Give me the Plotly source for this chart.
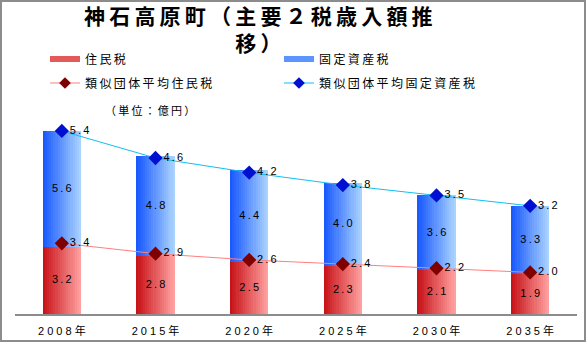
import plotly.graph_objects as go

# ---- data ----
years = ["2008年", "2015年", "2020年", "2025年", "2030年", "2035年"]
resident_tax = [3.2, 2.8, 2.5, 2.3, 2.1, 1.9]
fixed_asset_tax = [5.6, 4.8, 4.4, 4.0, 3.6, 3.3]
avg_resident_tax = [3.4, 2.9, 2.6, 2.4, 2.2, 2.0]
avg_fixed_asset_tax = [5.4, 4.6, 4.2, 3.8, 3.5, 3.2]

title_line1 = "神石高原町（主要２税歳入額推"
title_line2 = "移）"
unit_label = "（単位：億円）"
names = ["住民税", "固定資産税", "類似団体平均住民税", "類似団体平均固定資産税"]

W, H = 587, 344
TS = "\u2009"
FONT = "Liberation Sans, Arial, Noto Sans CJK JP, sans-serif"


def sp(s, sep=TS):
    return sep.join(s)


def fmt(v):
    return sp(f"{v:.1f}")


def lerp(c1, c2, t):
    return "rgb(%d,%d,%d)" % tuple(round(a + (b - a) * t) for a, b in zip(c1, c2))


fig = go.Figure()

BAR_W = 0.41
N = 18
red_l, red_r = (200, 20, 25), (255, 160, 160)
blue_l, blue_r = (25, 90, 255), (170, 210, 255)
for i in range(N):
    t = i / (N - 1)
    fig.add_bar(x=years, y=resident_tax, width=BAR_W / N, offset=-BAR_W / 2 + i * BAR_W / N,
                marker=dict(color=lerp(red_l, red_r, t), line=dict(width=0)),
                showlegend=False, hoverinfo="skip")
    fig.add_bar(x=years, y=fixed_asset_tax, base=resident_tax, width=BAR_W / N,
                offset=-BAR_W / 2 + i * BAR_W / N,
                marker=dict(color=lerp(blue_l, blue_r, t), line=dict(width=0)),
                showlegend=False, hoverinfo="skip")

# segment labels
fig.add_scatter(x=years, y=[r / 2 for r in resident_tax], mode="text",
                text=[fmt(v) for v in resident_tax], textfont=dict(size=11, color="black", family=FONT),
                showlegend=False, hoverinfo="skip")
fig.add_scatter(x=years, y=[r + f / 2 for r, f in zip(resident_tax, fixed_asset_tax)], mode="text",
                text=[fmt(v) for v in fixed_asset_tax], textfont=dict(size=11, color="black", family=FONT),
                showlegend=False, hoverinfo="skip")

# stacked lines
fig.add_scatter(x=years, y=avg_resident_tax, mode="lines+markers+text",
                line=dict(color="#FF7F7F", width=1),
                marker=dict(symbol="diamond", size=11, color="#7F0000"),
                text=[fmt(v) for v in avg_resident_tax], textposition="middle right",
                textfont=dict(size=11, color="black", family=FONT),
                showlegend=False, hoverinfo="skip")
fig.add_scatter(x=years, y=[a + b for a, b in zip(avg_resident_tax, avg_fixed_asset_tax)],
                mode="lines+markers+text",
                line=dict(color="#10C0F0", width=1),
                marker=dict(symbol="diamond", size=11, color="#0010D0"),
                text=[fmt(v) for v in avg_fixed_asset_tax], textposition="middle right",
                textfont=dict(size=11, color="black", family=FONT),
                showlegend=False, hoverinfo="skip")

# legend dummies
fig.add_scatter(x=[None], y=[None], mode="lines", name=sp(names[0]),
                line=dict(color="#E45A5A", width=6), legend="legend")
fig.add_scatter(x=[None], y=[None], mode="lines", name=sp(names[1]),
                line=dict(color="#5C95FF", width=6), legend="legend")
fig.add_scatter(x=[None], y=[None], mode="lines+markers", name=sp(names[2]),
                line=dict(color="#FF7F7F", width=1),
                marker=dict(symbol="diamond", size=9, color="#7F0000"), legend="legend2")
fig.add_scatter(x=[None], y=[None], mode="lines+markers", name=sp(names[3]),
                line=dict(color="#10C0F0", width=1),
                marker=dict(symbol="diamond", size=9, color="#0010D0"), legend="legend2")

leg = dict(orientation="h", entrywidth=189, entrywidthmode="pixels",
           font=dict(size=12, color="black", family=FONT),
           bgcolor="rgba(0,0,0,0)", xanchor="left", yanchor="middle", x=45 / W)
fig.update_layout(
    width=W, height=H, margin=dict(l=0, r=0, t=0, b=0),
    paper_bgcolor="white", plot_bgcolor="white",
    barmode="overlay", bargap=0,
    legend=dict(leg, y=1 - 59 / H),
    legend2=dict(leg, y=1 - 83 / H),
    xaxis=dict(domain=[15 / W, 577 / W], range=[-0.5, 5.5], showline=True,
               linecolor="#8C8C8C", linewidth=2, ticks="", showgrid=False,
               tickvals=years, ticktext=[sp(y, " ") for y in years], ticklabelstandoff=6,
               tickfont=dict(size=11, color="black", family=FONT)),
    yaxis=dict(domain=[30 / H, 238 / H], range=[0, 10], visible=False),
    showlegend=True,
)

fig.add_annotation(text=sp(title_line1) + "<br>" + sp(title_line2), x=258 / W, y=1 - 28 / H,
                   xref="paper", yref="paper", xanchor="center", yanchor="middle", showarrow=False,
                   font=dict(size=21, color="black", family="Noto Sans CJK JP", weight="bold"))
fig.add_annotation(text=sp(unit_label), x=150 / W, y=1 - 110 / H, xref="paper", yref="paper",
                   xanchor="center", yanchor="middle", showarrow=False,
                   font=dict(size=11, color="black", family=FONT))

fig.add_shape(type="rect", xref="paper", yref="paper", x0=1 / W, x1=585 / W, y0=1 - 341 / H, y1=1 - 1 / H,
              line=dict(color="#8C8C8C", width=2), fillcolor="rgba(0,0,0,0)", layer="above")

fig.write_html("out.html")
